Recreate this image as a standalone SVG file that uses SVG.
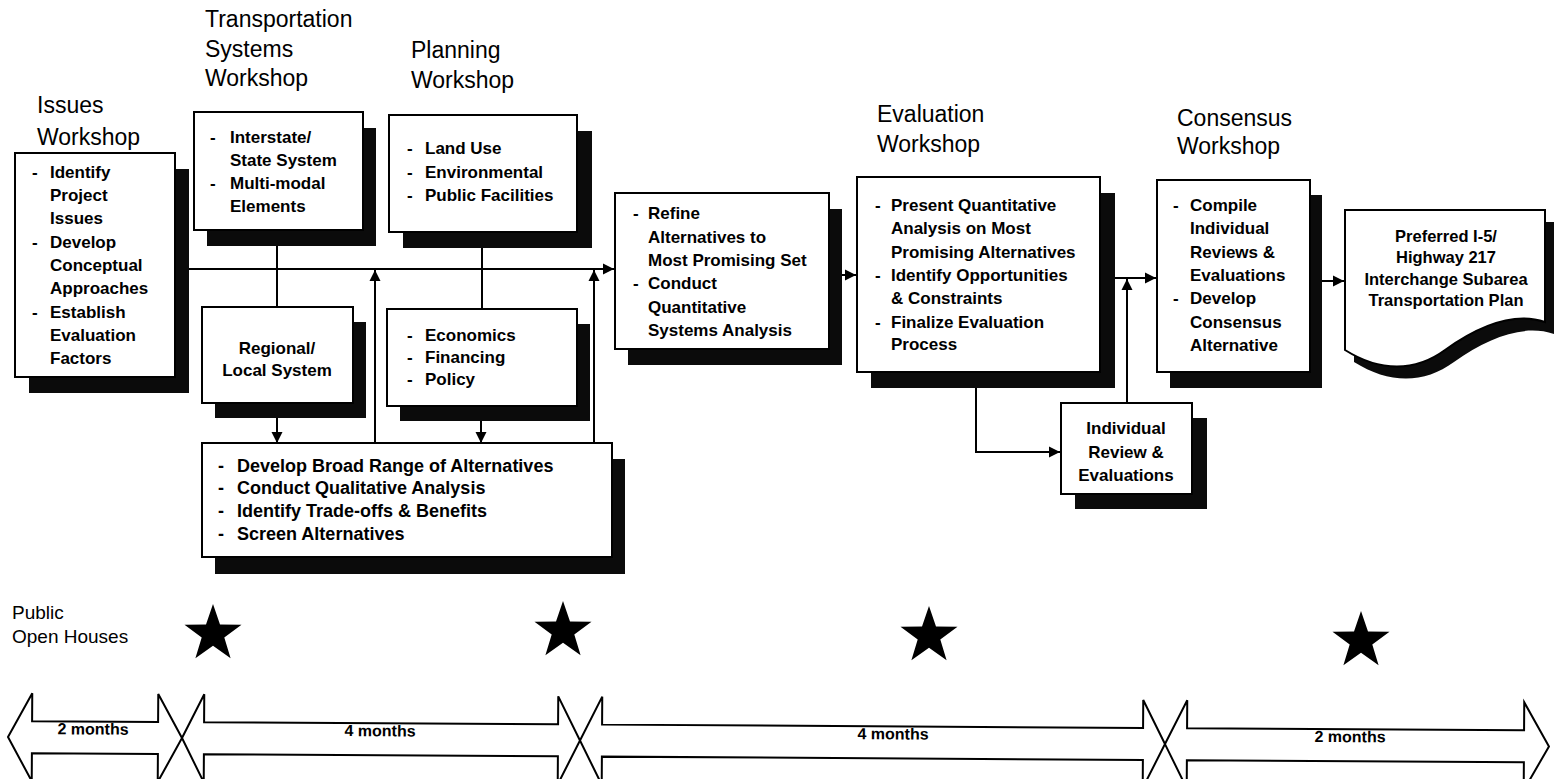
<svg xmlns="http://www.w3.org/2000/svg" width="1556" height="779" viewBox="0 0 1556 779">
  <style>
    .box { fill:#fff; stroke:#000; stroke-width:2 }
    .sh { fill:#0b0b0b }
    .t { font-family:"Liberation Sans", Arial, sans-serif; font-weight:bold; font-size:17px; fill:#000 }
    .t18 { font-size:18px }
    .h { font-family:"Liberation Sans", Arial, sans-serif; font-size:23px; fill:#000 }
    .p { font-family:"Liberation Sans", Arial, sans-serif; font-size:19px; fill:#000 }
    .m { font-family:"Liberation Sans", Arial, sans-serif; font-weight:bold; font-size:16px; fill:#000; text-anchor:middle }
    .c { text-anchor:middle }
    .ln { stroke:#000; stroke-width:2; fill:none }
    .star { fill:#000 }
    .tl { fill:#fff; stroke:#000; stroke-width:2; stroke-linejoin:miter }
  </style>
  <defs>
    <marker id="arr" markerUnits="userSpaceOnUse" markerWidth="12" markerHeight="12" refX="11" refY="6" orient="auto">
      <path d="M0,0.5 L11,6 L0,11.5 z" fill="#000"/>
    </marker>
    <polygon id="star5" points="0,-30 7,-9.5 28.5,-9.3 11.3,3.6 17.6,24.3 0,11.8 -17.6,24.3 -11.3,3.6 -28.5,-9.3 -7,-9.5"/>
  </defs>

  <!-- workshop headings -->
  <g id="headings">
    <text class="h" x="37" y="113">Issues</text>
    <text class="h" x="37" y="145">Workshop</text>
    <text class="h" x="205" y="27">Transportation</text>
    <text class="h" x="205" y="57">Systems</text>
    <text class="h" x="205" y="86">Workshop</text>
    <text class="h" x="411" y="58">Planning</text>
    <text class="h" x="411" y="88">Workshop</text>
    <text class="h" x="877" y="122">Evaluation</text>
    <text class="h" x="877" y="152">Workshop</text>
    <text class="h" x="1177" y="126">Consensus</text>
    <text class="h" x="1177" y="154">Workshop</text>
  </g>

  <!-- connectors -->
  <g id="connectors">
    <line class="ln" x1="188" y1="269" x2="614" y2="269" marker-end="url(#arr)"/>
    <line class="ln" x1="277" y1="245" x2="277" y2="307"/>
    <line class="ln" x1="482" y1="247" x2="482" y2="309"/>
    <line class="ln" x1="277" y1="418" x2="277" y2="443" marker-end="url(#arr)"/>
    <line class="ln" x1="481" y1="420" x2="481" y2="443" marker-end="url(#arr)"/>
    <line class="ln" x1="375" y1="443" x2="375" y2="270" marker-end="url(#arr)"/>
    <line class="ln" x1="594" y1="443" x2="594" y2="270" marker-end="url(#arr)"/>
    <line class="ln" x1="842" y1="275" x2="856" y2="275" marker-end="url(#arr)"/>
    <line class="ln" x1="1115" y1="278" x2="1156" y2="278" marker-end="url(#arr)"/>
    <polyline class="ln" points="976,387 976,452 1060,452" marker-end="url(#arr)"/>
    <line class="ln" x1="1127" y1="403" x2="1127" y2="279" marker-end="url(#arr)"/>
    <line class="ln" x1="1322" y1="281" x2="1344" y2="281" marker-end="url(#arr)"/>
  </g>

  <g id="issues">
    <rect class="sh" x="29" y="169" width="160" height="224"/>
    <rect class="box" x="15" y="153" width="160" height="224"/>
    <text class="t" x="32" y="178">-</text><text class="t" x="50" y="178">Identify</text>
    <text class="t" x="50" y="201">Project</text>
    <text class="t" x="50" y="224">Issues</text>
    <text class="t" x="32" y="248">-</text><text class="t" x="50" y="248">Develop</text>
    <text class="t" x="50" y="271">Conceptual</text>
    <text class="t" x="50" y="294">Approaches</text>
    <text class="t" x="32" y="318">-</text><text class="t" x="50" y="318">Establish</text>
    <text class="t" x="50" y="341">Evaluation</text>
    <text class="t" x="50" y="364">Factors</text>
  </g>

  <g id="transportation-systems">
    <rect class="sh" x="207" y="128" width="169" height="118"/>
    <rect class="box" x="194" y="112" width="169" height="118"/>
    <text class="t" x="210" y="143">-</text><text class="t" x="230" y="143">Interstate/</text>
    <text class="t" x="230" y="166">State System</text>
    <text class="t" x="210" y="189">-</text><text class="t" x="230" y="189">Multi-modal</text>
    <text class="t" x="230" y="212">Elements</text>
  </g>

  <g id="planning">
    <rect class="sh" x="403" y="131" width="189" height="117"/>
    <rect class="box" x="389" y="115" width="188" height="117"/>
    <text class="t" x="407" y="154">-</text><text class="t" x="425" y="154">Land Use</text>
    <text class="t" x="407" y="178">-</text><text class="t" x="425" y="178">Environmental</text>
    <text class="t" x="407" y="201">-</text><text class="t" x="425" y="201">Public Facilities</text>
  </g>

  <g id="regional-local">
    <rect class="sh" x="215" y="322" width="151" height="96"/>
    <rect class="box" x="202" y="307" width="151" height="96"/>
    <text class="t c" x="277" y="354">Regional/</text>
    <text class="t c" x="277" y="376">Local System</text>
  </g>

  <g id="economics">
    <rect class="sh" x="400" y="324" width="190" height="97"/>
    <rect class="box" x="387" y="309" width="190" height="97"/>
    <text class="t" x="407" y="341">-</text><text class="t" x="425" y="341">Economics</text>
    <text class="t" x="407" y="363">-</text><text class="t" x="425" y="363">Financing</text>
    <text class="t" x="407" y="385">-</text><text class="t" x="425" y="385">Policy</text>
  </g>

  <g id="alternatives">
    <rect class="sh" x="215" y="459" width="410" height="115"/>
    <rect class="box" x="202" y="443" width="410" height="114"/>
    <text class="t t18" x="218" y="472">-</text><text class="t t18" x="237" y="472">Develop Broad Range of Alternatives</text>
    <text class="t t18" x="218" y="494">-</text><text class="t t18" x="237" y="494">Conduct Qualitative Analysis</text>
    <text class="t t18" x="218" y="517">-</text><text class="t t18" x="237" y="517">Identify Trade-offs &amp; Benefits</text>
    <text class="t t18" x="218" y="540">-</text><text class="t t18" x="237" y="540">Screen Alternatives</text>
  </g>

  <g id="refine">
    <rect class="sh" x="628" y="209" width="214" height="156"/>
    <rect class="box" x="615" y="193" width="214" height="156"/>
    <text class="t" x="633" y="219">-</text><text class="t" x="648" y="219">Refine</text>
    <text class="t" x="648" y="243">Alternatives to</text>
    <text class="t" x="648" y="266">Most Promising Set</text>
    <text class="t" x="633" y="289">-</text><text class="t" x="648" y="289">Conduct</text>
    <text class="t" x="648" y="313">Quantitative</text>
    <text class="t" x="648" y="336">Systems Analysis</text>
  </g>

  <g id="evaluation">
    <rect class="sh" x="871" y="193" width="244" height="195"/>
    <rect class="box" x="857" y="177" width="243" height="195"/>
    <text class="t" x="875" y="211">-</text><text class="t" x="891" y="211">Present Quantitative</text>
    <text class="t" x="891" y="234">Analysis on Most</text>
    <text class="t" x="891" y="258">Promising Alternatives</text>
    <text class="t" x="875" y="281">-</text><text class="t" x="891" y="281">Identify Opportunities</text>
    <text class="t" x="891" y="304">&amp; Constraints</text>
    <text class="t" x="875" y="328">-</text><text class="t" x="891" y="328">Finalize Evaluation</text>
    <text class="t" x="891" y="350">Process</text>
  </g>

  <g id="individual-review">
    <rect class="sh" x="1075" y="418" width="132" height="91"/>
    <rect class="box" x="1061" y="403" width="131" height="91"/>
    <text class="t c" x="1126" y="434">Individual</text>
    <text class="t c" x="1126" y="458">Review &amp;</text>
    <text class="t c" x="1126" y="481">Evaluations</text>
  </g>

  <g id="consensus">
    <rect class="sh" x="1170" y="195" width="152" height="193"/>
    <rect class="box" x="1157" y="180" width="153" height="192"/>
    <text class="t" x="1173" y="211">-</text><text class="t" x="1190" y="211">Compile</text>
    <text class="t" x="1190" y="234">Individual</text>
    <text class="t" x="1190" y="258">Reviews &amp;</text>
    <text class="t" x="1190" y="281">Evaluations</text>
    <text class="t" x="1173" y="304">-</text><text class="t" x="1190" y="304">Develop</text>
    <text class="t" x="1190" y="328">Consensus</text>
    <text class="t" x="1190" y="351">Alternative</text>
  </g>

  <g id="plan-document">
    <path class="sh" transform="translate(9,12)" d="M1345,210 H1545 V322 C1515,312 1480,325 1445,350 C1415,372 1380,372 1345,350 Z"/>
    <path class="box" d="M1345,210 H1545 V322 C1515,312 1480,325 1445,350 C1415,372 1380,372 1345,350 Z"/>
    <text class="t c" x="1446" y="242" style="font-size:16.5px">Preferred I-5/</text>
    <text class="t c" x="1446" y="263" style="font-size:16.5px">Highway 217</text>
    <text class="t c" x="1446" y="285" style="font-size:16.5px">Interchange Subarea</text>
    <text class="t c" x="1446" y="306" style="font-size:16.5px">Transportation Plan</text>
  </g>

  <!-- public open houses -->
  <g id="open-houses">
    <text class="p" x="12" y="619">Public</text>
    <text class="p" x="12" y="643">Open Houses</text>
    <use href="#star5" class="star" x="213" y="634"/>
    <use href="#star5" class="star" x="563" y="631"/>
    <use href="#star5" class="star" x="929" y="636"/>
    <use href="#star5" class="star" x="1361" y="641"/>
  </g>

  <!-- schedule bar -->
  <g id="timeline" transform="rotate(0.35 8 737)">
    <polygon class="tl" points="8,737 32,693 32,721 158,721 158,693 182,737 158,781 158,753 32,753 32,781"/>
    <polygon class="tl" points="182,737 204,693 204,721 558,721 558,693 580,737 558,781 558,753 204,753 204,781"/>
    <polygon class="tl" points="580,737 602,693 602,721 1143,721 1143,693 1165,737 1143,781 1143,753 602,753 602,781"/>
    <polygon class="tl" points="1165,737 1187,693 1187,721 1524,721 1524,693 1549,737 1524,781 1524,753 1187,753 1187,781"/>
    <text class="m" x="93" y="734">2 months</text>
    <text class="m" x="380" y="734">4 months</text>
    <text class="m" x="893" y="734">4 months</text>
    <text class="m" x="1350" y="734">2 months</text>
  </g>
</svg>
